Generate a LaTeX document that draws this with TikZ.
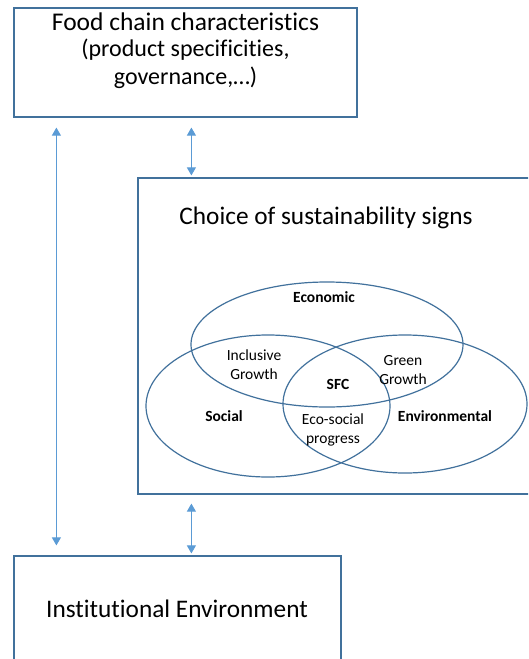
\documentclass[tikz,border=0pt]{standalone}
\usepackage{fontspec}
\setmainfont{Carlito}[Ligatures=TeX,RawFeature={-liga;-clig;-calt;-dlig}]
\usetikzlibrary{arrows.meta,shapes.geometric}
\definecolor{boxblue}{HTML}{41719C}
\definecolor{arrblue}{HTML}{5B9BD5}
\tikzset{
  mainbox/.style={draw=boxblue,line width=1.2pt,inner sep=0pt,fill=white},
  venn/.style={draw=boxblue,line width=1.2pt,ellipse,inner sep=0pt},
  arr/.style={draw=arrblue,line width=0.9pt,{Triangle[width=9pt,length=8pt]}-{Triangle[width=9pt,length=8pt]}},
  lbl/.style={font=\fontsize{15.5}{19}\selectfont,align=center,inner sep=0pt},
  blbl/.style={font=\fontsize{15.5}{19}\selectfont\bfseries,inner sep=0pt}
}
\begin{document}
\begin{tikzpicture}[x=1pt,y=1pt]
\useasboundingbox (0,0) rectangle (528,-659);
\clip (0,0) rectangle (528,-659);
% boxes
\node[mainbox,minimum width=343pt,minimum height=109pt] (top) at (185.5,-62.5) {};
\node[mainbox,minimum width=402pt,minimum height=316pt] (mid) at (339,-336) {};
\node[mainbox,minimum width=327pt,minimum height=130pt] (bot) at (177.5,-621) {};
% texts of boxes
\node[inner sep=0pt,font=\fontsize{25.5}{30}\selectfont] (t1) at (185.5,-22) {Food chain characteristics};
\node[inner sep=0pt,font=\fontsize{24}{28}\selectfont] (t2) at (185.5,-50) {(product specificities,};
\node[inner sep=0pt,font=\fontsize{24}{28}\selectfont] (t3) at (185.5,-78) {governance,…)};
\node[inner sep=0pt,font=\fontsize{25.3}{30}\selectfont] (t4) at (326,-218) {Choice of sustainability signs};
\node[inner sep=0pt,font=\fontsize{25.3}{30}\selectfont] (t5) at (177,-609) {Institutional Environment};
% venn
\node[venn,minimum width=272pt,minimum height=125pt] (eco) at (327,-344.5) {};
\node[venn,minimum width=244pt,minimum height=142pt] (soc) at (268,-406) {};
\node[venn,minimum width=244pt,minimum height=138pt] (env) at (405,-404) {};
\node[blbl] (l1) at (324,-297) {Economic};
\node[lbl] (l2) at (254,-365) {Inclusive\\Growth};
\node[lbl] (l3) at (403,-370) {Green\\Growth};
\node[blbl] (l4) at (338,-384) {SFC};
\node[blbl] (l5) at (224,-416) {Social};
\node[lbl] (l6) at (333,-430) {Eco-social\\progress};
\node[blbl] (l7) at (445,-416) {Environmental};
% arrows
\draw[arr] ([shift={(43pt,-10pt)}]top.south west) -- ([shift={(43pt,10pt)}]bot.north west);
\draw[arr] ([shift={(178pt,-10pt)}]top.south west) -- ([shift={(54pt,2pt)}]mid.north west);
\draw[arr] ([shift={(54pt,-9pt)}]mid.south west) -- ([shift={(178pt,2pt)}]bot.north west);
\end{tikzpicture}
\end{document}
